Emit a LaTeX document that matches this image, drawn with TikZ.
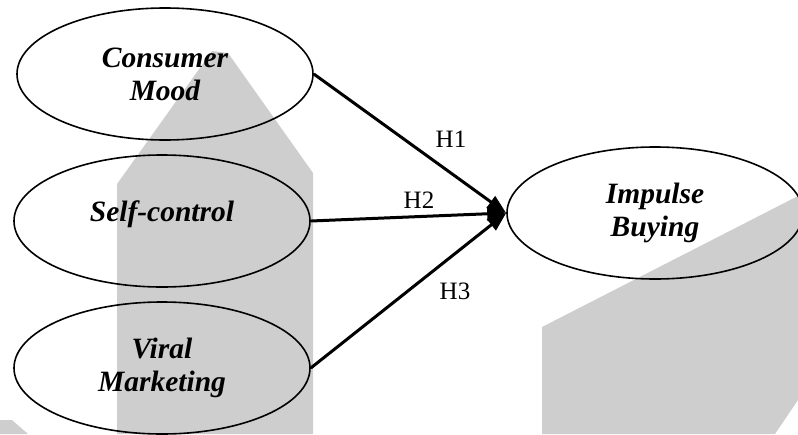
\documentclass[tikz,border=0pt]{standalone}
\usepackage{fontspec}
\setmainfont{Liberation Serif}
\usetikzlibrary{shapes.geometric,arrows.meta}
\definecolor{wmgray}{RGB}{206,206,206}
\tikzset{
  construct/.style={draw, ellipse, line width=1.6pt,
    minimum width=296pt, minimum height=132pt, align=center,
    font=\fontsize{29.5}{33}\selectfont\bfseries\itshape},
  hypo/.style={-{Triangle[length=19pt,width=14pt]}, line width=3pt},
  hlabel/.style={font=\fontsize{25}{30}\selectfont}
}
\begin{document}
\begin{tikzpicture}[x=1pt,y=-1pt]
  \clip (0,0) rectangle (798,434);
  % watermark in the background
  \fill[wmgray] (117,434) -- (117,184) -- (212,51) -- (228,53) -- (313,173) -- (313,434) -- cycle;
  \fill[wmgray] (542,434) -- (542,327) -- (798,196) -- (798,400) -- (775,434) -- cycle;
  \fill[wmgray] (0,420) -- (12,420) -- (28,434) -- (0,434) -- cycle;
  \draw
    (165,74) node[construct] (cm) {Consumer\\Mood}
    (162,221) node[construct, text depth=20pt] (sc) {Self-control}
    (162,368) node[construct] (vm) {Viral\\Marketing}
    (655,213) node[construct] (ib) {Impulse\\Buying};
  \node[hlabel] (h1) at (451,139) {H1};
  \node[hlabel] (h2) at (419,200) {H2};
  \node[hlabel] (h3) at (455,291) {H3};
  \begin{scope}[hypo]
    \draw (cm.east) to (ib.west);
    \draw (sc.east) to (ib.west);
    \draw (vm.east) to (ib.west);
  \end{scope}
\end{tikzpicture}
\end{document}
